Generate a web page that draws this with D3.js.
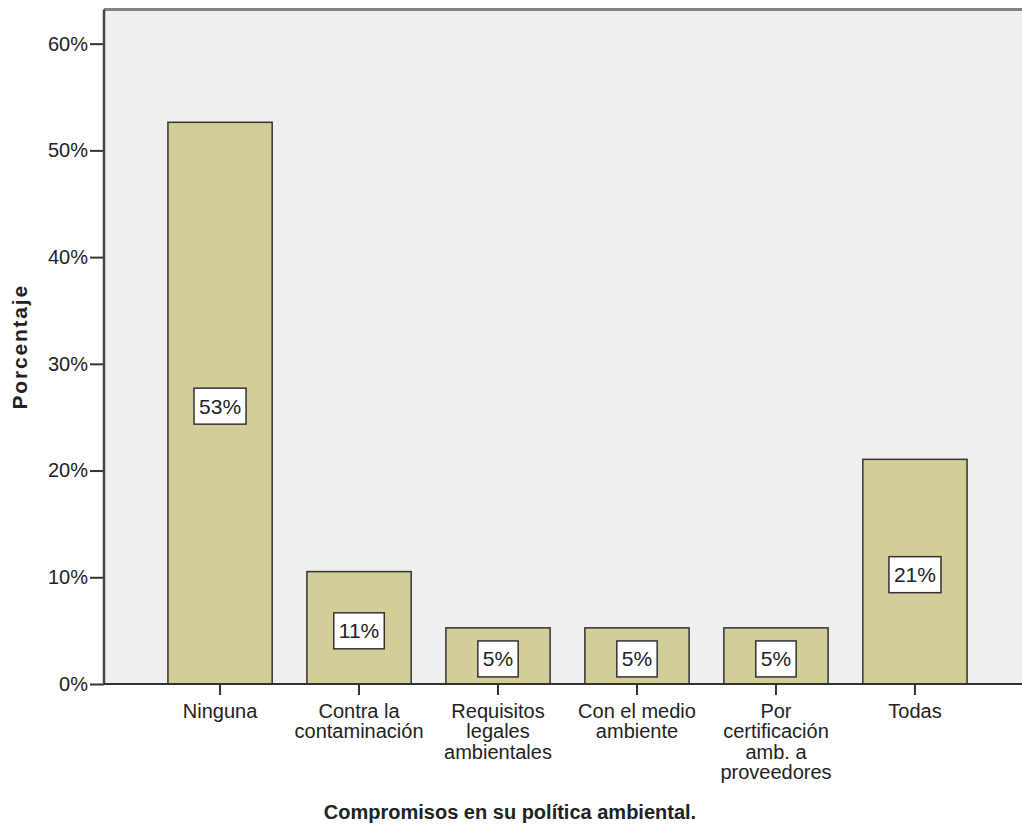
<!DOCTYPE html>
<html>
<head>
<meta charset="utf-8">
<script src="https://cdn.jsdelivr.net/npm/d3@7"></script>
<style>
  html, body { margin: 0; padding: 0; background: #ffffff; }
  svg { display: block; }
  text { font-family: "Liberation Sans", Arial, sans-serif; fill: #222; }
</style>
</head>
<body>
<svg id="chart" width="1022" height="826"></svg>
<script>
// Compromisos en su política ambiental (porcentaje de respuestas)
const categories = [
  "Ninguna",
  "Contra la\ncontaminación",
  "Requisitos\nlegales\nambientales",
  "Con el medio\nambiente",
  "Por\ncertificación\namb. a\nproveedores",
  "Todas"
];
const percentages = [52.63, 10.53, 5.26, 5.26, 5.26, 21.05];
const yTicks = [0, 10, 20, 30, 40, 50, 60];
const yLabel = "Porcentaje";
const xLabel = "Compromisos en su política ambiental.";

const data = categories.map((c, i) => ({ category: c, value: percentages[i] }));

const svg = d3.select("#chart");
const plot = { left: 104, right: 1031, top: 9.5, bottom: 684 };

const x = d3.scaleBand()
  .domain(categories)
  .range([plot.left, plot.right])
  .paddingInner(0.25)
  .paddingOuter(0.46);

const y = d3.scaleLinear()
  .domain([0, 63.2])
  .range([plot.bottom, plot.top]);

// Plot background
svg.append("rect")
  .attr("x", plot.left)
  .attr("y", plot.top)
  .attr("width", plot.right - plot.left)
  .attr("height", plot.bottom - plot.top)
  .attr("fill", "#efefef");

// Top frame line
svg.append("line")
  .attr("x1", plot.left).attr("x2", plot.right)
  .attr("y1", plot.top).attr("y2", plot.top)
  .attr("stroke", "#848484").attr("stroke-width", 3);

// Bars
svg.append("g").selectAll("rect")
  .data(data)
  .join("rect")
  .attr("x", d => x(d.category))
  .attr("y", d => y(d.value))
  .attr("width", x.bandwidth())
  .attr("height", d => y(0) - y(d.value))
  .attr("fill", "#d3ce98")
  .attr("stroke", "#333")
  .attr("stroke-width", 1.5);

// Value labels in white boxes
const fmt = d3.format(".0f");
const labels = svg.append("g").selectAll("g")
  .data(data)
  .join("g")
  .attr("transform", d => `translate(${x(d.category) + x.bandwidth() / 2},${(y(d.value) + y(0)) / 2 + 3})`);

labels.append("text")
  .attr("text-anchor", "middle")
  .attr("dy", "0.36em")
  .attr("font-size", 21)
  .text(d => fmt(d.value) + "%");

labels.each(function () {
  const g = d3.select(this);
  const bb = g.select("text").node().getBBox();
  g.insert("rect", "text")
    .attr("x", -bb.width / 2 - 5)
    .attr("y", -18)
    .attr("width", bb.width + 10)
    .attr("height", 36)
    .attr("fill", "#ffffff")
    .attr("stroke", "#333")
    .attr("stroke-width", 1.5);
});

// Y axis
const yAxis = svg.append("g")
  .attr("transform", `translate(${plot.left},0)`)
  .call(d3.axisLeft(y).tickValues(yTicks).tickFormat(d => d + "%").tickSize(14).tickPadding(2));
yAxis.select(".domain").remove();
yAxis.selectAll(".tick line").attr("stroke", "#333").attr("stroke-width", 2);
yAxis.selectAll(".tick text").attr("font-size", 20).attr("fill", "#222")
  .attr("font-family", "Liberation Sans, Arial, sans-serif");
svg.append("line")
  .attr("x1", plot.left).attr("x2", plot.left)
  .attr("y1", plot.top).attr("y2", plot.bottom + 1)
  .attr("stroke", "#444").attr("stroke-width", 2.5);

// X axis
const xAxis = svg.append("g")
  .attr("transform", `translate(0,${plot.bottom})`)
  .call(d3.axisBottom(x).tickSize(11).tickFormat(""));
xAxis.select(".domain").remove();
xAxis.selectAll(".tick line").attr("stroke", "#333").attr("stroke-width", 2);
svg.append("line")
  .attr("x1", plot.left).attr("x2", plot.right)
  .attr("y1", plot.bottom).attr("y2", plot.bottom)
  .attr("stroke", "#333").attr("stroke-width", 2);

xAxis.selectAll(".tick").each(function (d) {
  const t = d3.select(this).append("text")
    .attr("text-anchor", "middle")
    .attr("font-size", 20)
    .attr("fill", "#222")
    .attr("font-family", "Liberation Sans, Arial, sans-serif")
    .attr("y", 34);
  d.split("\n").forEach((line, i) => {
    t.append("tspan").attr("x", 0).attr("dy", i === 0 ? 0 : 20.3).text(line);
  });
});

// Axis titles
svg.append("text")
  .attr("transform", `translate(27,${(plot.top + plot.bottom) / 2}) rotate(-90)`)
  .attr("text-anchor", "middle")
  .attr("font-size", 21)
  .attr("font-weight", "bold")
  .attr("letter-spacing", 1.8)
  .text(yLabel);

svg.append("text")
  .attr("x", 510)
  .attr("y", 819)
  .attr("text-anchor", "middle")
  .attr("font-size", 20)
  .attr("font-weight", "bold")
  .text(xLabel);
</script>
</body>
</html>
